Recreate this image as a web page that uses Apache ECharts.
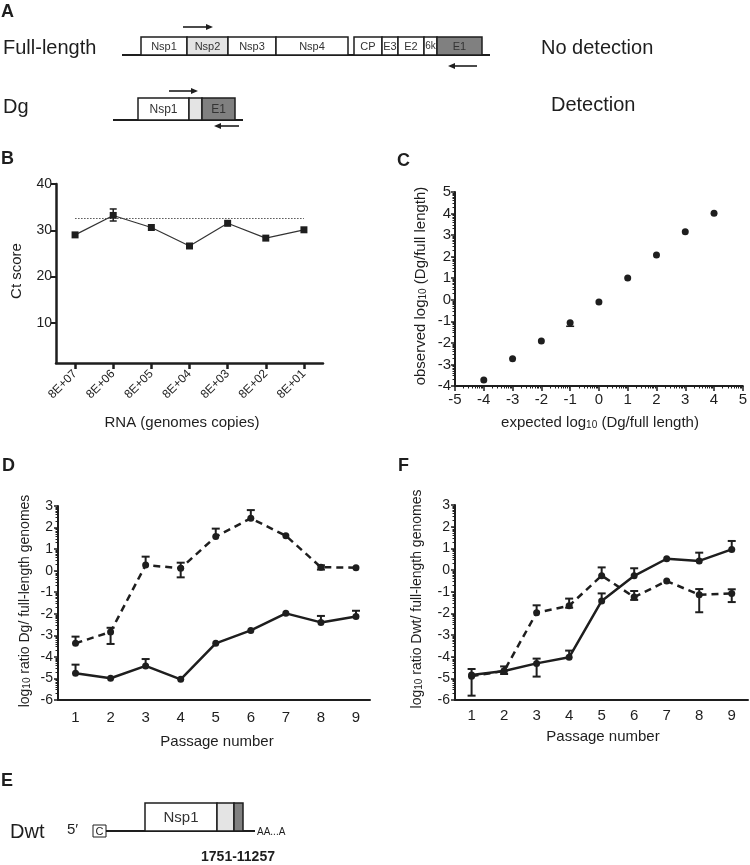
<!DOCTYPE html>
<html>
<head>
<meta charset="utf-8">
<script src="https://cdn.jsdelivr.net/npm/echarts@6/dist/echarts.min.js"></script>
<style>
html,body{margin:0;padding:0;background:#fff;}
#chart{width:750px;height:865px;}
</style>
</head>
<body>
<div id="chart"></div>
<script>
// ---------- DATA ----------
// Panel B
const bCategories = ['8E+07','8E+06','8E+05','8E+04','8E+03','8E+02','8E+01'];
const bCt = [29.0, 33.2, 30.6, 26.6, 31.5, 28.3, 30.1];
const bErrLow = [null, 32.0, null, null, null, null, null];
const bErrHigh = [null, 34.6, null, null, null, null, null];
const bThreshold = 32.7;
const bYTicks = [10, 20, 30, 40];
// Panel C
const cExpected = [-4, -3, -2, -1, 0, 1, 2, 3, 4];
const cObserved = [-3.72, -2.74, -1.91, -1.06, -0.10, 1.01, 2.08, 3.16, 4.01];
const cErrLow = [null, null, null, -1.23, null, null, null, null, null];
const cErrHigh = [null, null, null, null, null, null, null, null, null];
// Panel D
const passages = [1, 2, 3, 4, 5, 6, 7, 8, 9];
const dDashed = [-3.37, -2.84, 0.26, 0.11, 1.58, 2.43, 1.62, 0.16, 0.14];
const dDashedLow = [null, -3.40, null, -0.31, null, null, null, 0.05, null];
const dDashedHigh = [-3.06, -2.65, 0.65, 0.37, 1.95, 2.81, null, 0.25, null];
const dSolid = [-4.76, -4.99, -4.42, -5.04, -3.37, -2.77, -1.98, -2.40, -2.13];
const dSolidLow = [null, null, null, null, null, null, null, null, null];
const dSolidHigh = [-4.36, null, -4.10, null, null, null, null, -2.10, -1.86];
// Panel F
const fDashed = [-4.90, -4.66, -1.97, -1.65, -0.26, -1.25, -0.51, -1.14, -1.08];
const fDashedLow = [null, null, null, -1.74, null, -1.38, null, -1.95, -1.48];
const fDashedHigh = [null, null, -1.63, -1.32, 0.12, -0.97, null, -0.88, -0.89];
const fSolid = [-4.85, -4.66, -4.31, -4.03, -1.43, -0.27, 0.52, 0.42, 0.95];
const fSolidLow = [-5.80, -4.80, -4.92, null, null, null, null, null, null];
const fSolidHigh = [-4.57, -4.45, -4.09, -3.72, -1.08, 0.08, null, 0.80, 1.34];

// ---------- HELPERS ----------
const FONT = '"Liberation Sans", Arial, sans-serif';
const INK = '#1e1e1e';

function errItems(xs, vals, lows, highs) {
  const out = [];
  for (let i = 0; i < vals.length; i++) {
    const lo = lows[i], hi = highs[i];
    if (lo == null && hi == null) continue;
    out.push([xs[i], lo == null ? vals[i] : lo, hi == null ? vals[i] : hi, lo == null ? 0 : 1, hi == null ? 0 : 1]);
  }
  return out;
}
function errSeries(xi, yi, data, lw, cap) {
  return {
    type: 'custom', xAxisIndex: xi, yAxisIndex: yi, data: data, z: 3, silent: true,
    renderItem: function (params, api) {
      const x = api.value(0);
      const pLo = api.coord([x, api.value(1)]);
      const pHi = api.coord([x, api.value(2)]);
      const st = {stroke: INK, lineWidth: lw, fill: null};
      const ch = [{type: 'line', shape: {x1: pLo[0], y1: pLo[1], x2: pHi[0], y2: pHi[1]}, style: st}];
      if (api.value(3)) ch.push({type: 'line', shape: {x1: pLo[0] - cap, y1: pLo[1], x2: pLo[0] + cap, y2: pLo[1]}, style: st});
      if (api.value(4)) ch.push({type: 'line', shape: {x1: pHi[0] - cap, y1: pHi[1], x2: pHi[0] + cap, y2: pHi[1]}, style: st});
      return {type: 'group', children: ch};
    }
  };
}
function pairs(xs, ys) { return xs.map((x, i) => [x, ys[i]]); }
function logMinor(a, b) {
  const v = [];
  for (let k = a; k < b; k++) for (let m = 2; m <= 9; m++) v.push(k + Math.log10(m));
  return v;
}

function txt(x, y, s, size, opt) {
  opt = opt || {};
  return {
    type: 'text', x: x, y: y, rotation: opt.rot || 0, silent: true, z: 10,
    style: {
      text: s, fill: opt.color || INK,
      font: (opt.bold ? 'bold ' : '') + size + 'px ' + FONT,
      align: opt.align || 'left', verticalAlign: opt.va || 'middle',
      rich: opt.rich
    }
  };
}
function box(x1, x2, y, h, label, fill, fs) {
  const els = [{type: 'rect', shape: {x: x1, y: y, width: x2 - x1, height: h}, style: {fill: fill, stroke: INK, lineWidth: 1.5}, z: 5}];
  if (label) els.push(txt((x1 + x2) / 2, y + h / 2 + 0.5, label, fs || 11, {align: 'center', color: '#333'}));
  return els;
}
function hline(x1, x2, y, w) { return {type: 'line', shape: {x1: x1, y1: y, x2: x2, y2: y}, style: {stroke: INK, lineWidth: w || 2}, z: 4}; }
function arrow(xFrom, xTo, y) {
  const dir = xTo > xFrom ? 1 : -1;
  const hx = xTo - dir * 7;
  return [
    {type: 'line', shape: {x1: xFrom, y1: y, x2: hx, y2: y}, style: {stroke: INK, lineWidth: 1.6}, z: 5},
    {type: 'polygon', shape: {points: [[hx, y - 3], [xTo, y], [hx, y + 3]]}, style: {fill: INK}, z: 5}
  ];
}
const subRich = {
  sub: {fontSize: 10, verticalAlign: 'bottom', padding: [5, 0, 0, 0], fontFamily: FONT, fill: INK}
};

// ---------- GRAPHIC (panels A and E, labels) ----------
const g = [];
// Panel A
g.push(txt(1, 12, 'A', 18, {bold: true}));
g.push(txt(3, 48, 'Full-length', 20));
g.push(hline(122, 490, 55, 2));
[[141,187,'Nsp1','#fff'],[187,228,'Nsp2','#e4e4e4'],[228,276,'Nsp3','#fff'],[276,348,'Nsp4','#fff'],
 [354,382,'CP','#fff'],[382,398,'E3','#fff'],[398,424,'E2','#fff'],[424,437,'6k','#fff'],[437,482,'E1','#808080']]
  .forEach(b => g.push(...box(b[0], b[1], 37, 18, b[2], b[3], b[2] === '6k' ? 10 : 11)));
g.push(...arrow(183, 213, 27));
g.push(...arrow(477, 448, 66));
g.push(txt(541, 48, 'No detection', 20));
g.push(txt(3, 107, 'Dg', 20));
g.push(hline(113, 243, 120, 2));
g.push(...box(138, 189, 98, 22, 'Nsp1', '#fff', 12));
g.push(...box(189, 202, 98, 22, '', '#e4e4e4'));
g.push(...box(202, 235, 98, 22, 'E1', '#808080', 12));
g.push(...arrow(169, 198, 91));
g.push(...arrow(239, 214, 126));
g.push(txt(551, 105, 'Detection', 20));
// Panel letters
g.push(txt(1, 159, 'B', 18, {bold: true}));
g.push(txt(397, 161, 'C', 18, {bold: true}));
g.push(txt(2, 466, 'D', 18, {bold: true}));
g.push(txt(398, 466, 'F', 18, {bold: true}));
// Axis titles
g.push(txt(17, 271, 'Ct score', 15, {align: 'center', rot: Math.PI / 2}));
g.push(txt(182, 423, 'RNA (genomes copies)', 15, {align: 'center'}));
g.push(txt(421, 286, 'observed log{sub|10} (Dg/full length)', 15, {align: 'center', rot: Math.PI / 2, rich: subRich}));
g.push(txt(600, 423, 'expected log{sub|10} (Dg/full length)', 15, {align: 'center', rich: subRich}));
g.push(txt(25, 601, 'log{sub|10} ratio Dg/ full-length genomes', 14, {align: 'center', rot: Math.PI / 2, rich: subRich}));
g.push(txt(217, 742, 'Passage number', 15, {align: 'center'}));
g.push(txt(417, 599, 'log{sub|10} ratio Dwt/ full-length genomes', 14, {align: 'center', rot: Math.PI / 2, rich: subRich}));
g.push(txt(603, 737, 'Passage number', 15, {align: 'center'}));
// Panel E
g.push(txt(1, 781, 'E', 18, {bold: true}));
g.push(txt(10, 832, 'Dwt', 20));
g.push(txt(67, 830, '5\u2032', 15));
g.push({type: 'rect', shape: {x: 93, y: 825, width: 13, height: 12}, style: {fill: '#fff', stroke: INK, lineWidth: 1}, z: 5});
g.push(txt(99.5, 831.5, 'C', 11, {align: 'center'}));
g.push(hline(106, 255, 831, 2));
g.push(...box(145, 217, 803, 28, 'Nsp1', '#fff', 15));
g.push(...box(217, 234, 803, 28, '', '#e4e4e4'));
g.push(...box(234, 243, 803, 28, '', '#808080'));
g.push(txt(257, 832, 'AA...A', 10));
g.push(txt(238, 857, '1751-11257', 14, {bold: true, align: 'center'}));

// ---------- AXES ----------
const axLine = (w) => ({show: true, onZero: false, lineStyle: {color: INK, width: w}});
const lbl = (size, extra) => Object.assign({color: INK, fontSize: size, fontFamily: FONT}, extra || {});
function minorAxis(grid, min, max, pos) {
  return {
    type: 'value', gridIndex: grid, min: min, max: max, position: pos, offset: 0,
    axisLine: {show: false, onZero: false},
    axisTick: {show: true, length: 2.5, customValues: logMinor(min, max), lineStyle: {color: INK, width: 1}},
    axisLabel: {show: false}, splitLine: {show: false}
  };
}

const xAxes = [
  { // B
    type: 'category', gridIndex: 0, data: bCategories, boundaryGap: true, position: 'bottom',
    axisLine: axLine(2.5),
    axisTick: {show: true, alignWithLabel: true, length: 6, lineStyle: {color: INK, width: 2.5}},
    axisLabel: lbl(12, {rotate: 45, margin: 9}),
    splitLine: {show: false}
  },
  { // C
    type: 'value', gridIndex: 1, min: -5, max: 5, interval: 1, position: 'bottom',
    axisLine: axLine(2),
    axisTick: {show: true, length: 5, lineStyle: {color: INK, width: 1.5}},
    axisLabel: lbl(15, {margin: 6}),
    splitLine: {show: false}
  },
  minorAxis(1, -5, 5, 'bottom'),
  { // D
    type: 'value', gridIndex: 2, min: 0.5, max: 9.4, position: 'bottom',
    axisLine: axLine(2),
    axisTick: {show: false},
    axisLabel: lbl(15, {customValues: passages, margin: 10}),
    splitLine: {show: false}
  },
  { // F
    type: 'value', gridIndex: 3, min: 0.49, max: 9.5, position: 'bottom',
    axisLine: axLine(2),
    axisTick: {show: false},
    axisLabel: lbl(15, {customValues: passages, margin: 8}),
    splitLine: {show: false}
  }
];
const yAxes = [
  { // B
    type: 'value', gridIndex: 0, min: 1.3, max: 40, position: 'left',
    axisLine: axLine(2.5),
    axisTick: {show: true, length: 5, customValues: bYTicks, lineStyle: {color: INK, width: 2}},
    axisLabel: lbl(14, {customValues: bYTicks, margin: 4}),
    splitLine: {show: false}
  },
  { // C
    type: 'value', gridIndex: 1, min: -4, max: 5, interval: 1, position: 'left',
    axisLine: axLine(2),
    axisTick: {show: true, length: 4, lineStyle: {color: INK, width: 1.5}},
    axisLabel: lbl(15, {margin: 4}),
    splitLine: {show: false}
  },
  minorAxis(1, -4, 5, 'left'),
  { // D
    type: 'value', gridIndex: 2, min: -6, max: 3, interval: 1, position: 'left',
    axisLine: axLine(2),
    axisTick: {show: true, length: 4, lineStyle: {color: INK, width: 1.5}},
    axisLabel: lbl(14, {margin: 5}),
    splitLine: {show: false}
  },
  minorAxis(2, -6, 3, 'left'),
  { // F
    type: 'value', gridIndex: 3, min: -6, max: 3, interval: 1, position: 'left',
    axisLine: axLine(2),
    axisTick: {show: true, length: 4, lineStyle: {color: INK, width: 1.5}},
    axisLabel: lbl(14, {margin: 5}),
    splitLine: {show: false}
  },
  minorAxis(3, -6, 3, 'left')
];

// ---------- SERIES ----------
const lineStyleSolid = {color: INK, width: 2.5, type: 'solid'};
const lineStyleDash = {color: INK, width: 2.5, type: [7, 5]};
const series = [
  { // B
    type: 'line', xAxisIndex: 0, yAxisIndex: 0, data: bCt, z: 4,
    symbol: 'rect', symbolSize: 7, itemStyle: {color: INK, opacity: 1},
    lineStyle: {color: '#333', width: 1.2},
    markLine: {
      silent: true, symbol: 'none', label: {show: false},
      lineStyle: {color: '#555', width: 1, type: [1.5, 1.5]},
      data: [[{coord: [0, bThreshold]}, {coord: [bCategories.length - 1, bThreshold]}]]
    }
  },
  errSeries(0, 0, errItems(bCategories.map((c, i) => i), bCt, bErrLow, bErrHigh), 1.5, 3.5),
  { // C
    type: 'scatter', xAxisIndex: 1, yAxisIndex: 1, data: pairs(cExpected, cObserved), z: 4,
    symbol: 'circle', symbolSize: 7, itemStyle: {color: INK, opacity: 1}
  },
  errSeries(1, 1, errItems(cExpected, cObserved, cErrLow, cErrHigh), 1.5, 4),
  { // D dashed
    type: 'line', xAxisIndex: 3, yAxisIndex: 3, data: pairs(passages, dDashed), z: 4,
    symbol: 'circle', symbolSize: 7, itemStyle: {color: INK, opacity: 1}, lineStyle: lineStyleDash
  },
  { // D solid
    type: 'line', xAxisIndex: 3, yAxisIndex: 3, data: pairs(passages, dSolid), z: 4,
    symbol: 'circle', symbolSize: 7, itemStyle: {color: INK, opacity: 1}, lineStyle: lineStyleSolid
  },
  errSeries(3, 3, errItems(passages, dDashed, dDashedLow, dDashedHigh), 2, 4),
  errSeries(3, 3, errItems(passages, dSolid, dSolidLow, dSolidHigh), 2, 4),
  { // F dashed
    type: 'line', xAxisIndex: 4, yAxisIndex: 5, data: pairs(passages, fDashed), z: 4,
    symbol: 'circle', symbolSize: 7, itemStyle: {color: INK, opacity: 1}, lineStyle: lineStyleDash
  },
  { // F solid
    type: 'line', xAxisIndex: 4, yAxisIndex: 5, data: pairs(passages, fSolid), z: 4,
    symbol: 'circle', symbolSize: 7, itemStyle: {color: INK, opacity: 1}, lineStyle: lineStyleSolid
  },
  errSeries(4, 5, errItems(passages, fDashed, fDashedLow, fDashedHigh), 2, 4),
  errSeries(4, 5, errItems(passages, fSolid, fSolidLow, fSolidHigh), 2, 4)
];

const chart = echarts.init(document.getElementById('chart'), null, {renderer: 'canvas'});
chart.setOption({
  backgroundColor: '#fff',
  animation: false,
  grid: [
    {left: 56, top: 184, width: 267, height: 179},
    {left: 455, top: 192, width: 288, height: 194},
    {left: 58, top: 506, width: 312, height: 194},
    {left: 455, top: 505, width: 293, height: 195}
  ],
  xAxis: xAxes,
  yAxis: yAxes,
  series: series,
  graphic: {elements: g}
});
</script>
</body>
</html>
